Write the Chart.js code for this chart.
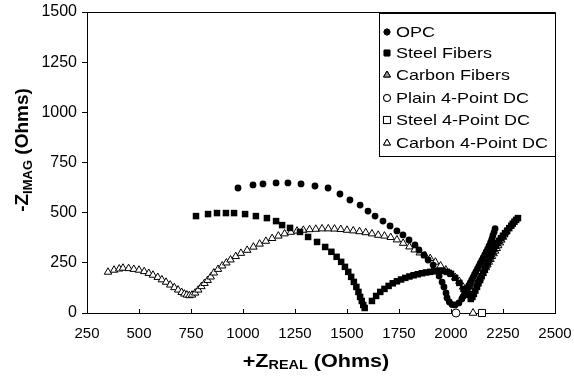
<!DOCTYPE html>
<html>
<head>
<meta charset="utf-8">
<script src="https://cdn.jsdelivr.net/npm/chart.js@4/dist/chart.umd.min.js"></script>
<style>
  html, body { margin: 0; padding: 0; background: #fff; }
  canvas { display: block; }
</style>
</head>
<body>
<canvas id="nyquist" width="574" height="379"></canvas>
<script>
// Data (ohms)
const opcX = [976,1048,1096,1159,1216,1279,1346,1409,1466,1514,1563,1601,1635,1673,1707,1740,1769,1798,1827,1846,1870,1890,1914,1933,1943,1957,1966,1976,1981,1992,2005,2020,2038,2052,2058,2065,2072,2078,2085,2092,2099,2106,2113,2120,2127,2134,2141,2148,2155,2162,2169,2176,2183,2190,2196,2201,2207,2212];
const opcY = [623,638,643,648,648,643,633,623,593,563,538,508,483,458,434,409,389,364,339,314,289,264,239,209,184,154,130,100,75,55,42,40,50,70,82,95,108,122,136,150,164,178,192,206,220,234,248,262,276,290,304,318,334,350,367,385,402,420];

const steelX = [774,832,875,918,957,1010,1062,1115,1159,1188,1226,1274,1313,1356,1395,1425,1450,1472,1490,1506,1520,1533,1545,1555,1563,1571,1578,1585,
  1620,1640,1660,1680,1700,1720,1740,1760,1780,1800,1820,1840,1860,1880,1900,1920,1940,1960,1980,2000,2020,2040,2060,2080,2095,
  2103,2110,2117,2125,2132,2140,2147,2155,2162,2170,2177,2185,2192,2200,2207,2215,2222,2230,2240,2250,2260,2270,2280,2290,2297,2305,2313,2322];
const steelY = [483,493,498,498,498,493,483,473,458,438,424,404,379,354,329,305,280,255,230,205,180,155,130,105,80,60,40,25,
  60,85,105,120,135,148,158,167,175,182,188,193,198,202,205,208,210,210,205,195,175,150,120,90,70,
  80,95,112,130,148,165,183,200,218,235,252,270,288,305,320,335,348,360,373,385,398,410,423,435,445,455,464,473];

const carbonX = [351,380,405,423,450,475,500,525,547,567,590,610,630,650,670,688,705,718,730,742,755,770,785,800,815,830,845,860,880,900,920,940,965,990,1020,1050,1080,1110,1140,1170,1200,1230,1260,1290,1320,1350,1380,1410,1440,1470,1500,1530,1560,1590,1620,1650,1680,1710,1740,1770,1800,1825,1850,1875,1900,1925,1950,1975,2000,2020,2040,2058,2072,2085,
  2092,2100,2107,2115,2122,2130,2137,2145,2152,2160,2167,2175,2182,2190,2197,2205,2212,2220,2227,2235,2242,2250,2256,2262];
const carbonY = [204,214,220,224,222,218,214,207,198,189,178,166,154,140,127,115,103,95,90,87,90,100,115,132,148,163,180,200,218,235,250,265,282,298,313,329,344,358,372,384,395,403,409,413,416,418,420,420,419,417,413,410,406,401,395,388,384,377,365,348,330,315,300,286,272,254,235,215,195,178,158,130,108,88,
  95,105,118,130,144,158,172,185,198,212,226,240,254,268,282,296,309,322,336,350,364,378,390,403];

// 4-point DC resistances (on the real axis)
const plainDcX = [2024], plainDcY = [0];
const steelDcX = [2149], steelDcY = [0];
const carbonDcX = [2106], carbonDcY = [0];

const xTicks = [250,500,750,1000,1250,1500,1750,2000,2250,2500];
const yTicks = [0,250,500,750,1000,1250,1500];

function pts(xs, ys) {
  return xs.map((x, i) => ({ x: x, y: ys[i] }));
}

const FONT = '"Liberation Sans", Arial, Helvetica, sans-serif';
const SX = 1.2; // the scanned figure is a bit wider than tall

function drawParts(ctx, parts, x, y, sx, align) {
  let w = 0;
  parts.forEach(p => { ctx.font = p.font; w += ctx.measureText(p.t).width; });
  ctx.save();
  ctx.translate(x, y);
  ctx.scale(sx, 1);
  let cx = align === 'center' ? -w / 2 : 0;
  ctx.textBaseline = 'middle';
  ctx.textAlign = 'left';
  parts.forEach(p => {
    ctx.font = p.font;
    ctx.fillText(p.t, cx, p.dy || 0);
    cx += ctx.measureText(p.t).width;
  });
  ctx.restore();
}

const decorations = {
  id: 'decorations',
  afterDraw(chart) {
    const ctx = chart.ctx;
    const a = chart.chartArea;
    const xs = chart.scales.x;
    ctx.save();
    ctx.strokeStyle = '#000';
    ctx.fillStyle = '#000';
    ctx.lineWidth = 1;

    // frame
    ctx.beginPath();
    ctx.moveTo(a.left, a.top + 0.5);
    ctx.lineTo(a.right + 0.5, a.top + 0.5);
    ctx.lineTo(a.right + 0.5, a.bottom);
    ctx.stroke();

    // x tick marks, pointing inward
    ctx.beginPath();
    xTicks.forEach(v => {
      const px = Math.round(xs.getPixelForValue(v)) + 0.5;
      ctx.moveTo(px, a.bottom);
      ctx.lineTo(px, a.bottom - 4);
    });
    ctx.stroke();

    // axis titles
    drawParts(ctx, [
      { t: '+Z', font: 'bold 18px ' + FONT },
      { t: 'REAL', font: 'bold 12px ' + FONT, dy: 4 },
      { t: ' (Ohms)', font: 'bold 18px ' + FONT }
    ], 316, 362, SX, 'center');

    ctx.save();
    ctx.translate(23, 150);
    ctx.rotate(-Math.PI / 2);
    drawParts(ctx, [
      { t: '-Z', font: 'bold 19px ' + FONT },
      { t: 'IMAG', font: 'bold 13px ' + FONT, dy: 5 },
      { t: ' (Ohms)', font: 'bold 19px ' + FONT }
    ], 0, 0, 1, 'center');
    ctx.restore();

    // legend
    const lx = 379, ly = 13, lw = a.right - 379, lh = 143;
    ctx.fillStyle = '#fff';
    ctx.fillRect(lx, ly, lw, lh);
    ctx.strokeStyle = '#000';
    ctx.strokeRect(lx + 0.5, ly + 0.5, lw, lh);
    const rows = [32, 53, 75, 98, 120, 143];
    chart.data.datasets.forEach((ds, i) => {
      const cy = rows[i];
      Chart.helpers.drawPoint(ctx, {
        pointStyle: ds.pointStyle,
        radius: ds.legendRadius,
        borderWidth: 1,
        rotation: 0
      }, 387, cy);
      ctx.save();
      ctx.fillStyle = ds.legendFill;
      ctx.strokeStyle = '#000';
      ctx.lineWidth = 1;
      ctx.fill();
      ctx.stroke();
      ctx.restore();
      ctx.fillStyle = '#000';
      drawParts(ctx, [{ t: ds.label, font: '15px ' + FONT }], 396, cy + 1, SX, 'left');
    });
    ctx.restore();
  }
};

new Chart(document.getElementById('nyquist'), {
  type: 'scatter',
  data: {
    datasets: [{
      label: 'OPC',
      data: pts(opcX, opcY),
      pointStyle: 'circle',
      pointRadius: 3.4,
      backgroundColor: '#000',
      borderColor: '#000',
      borderWidth: 0,
      legendRadius: 3,
      legendFill: '#000'
    }, {
      label: 'Steel Fibers',
      data: pts(steelX, steelY),
      pointStyle: 'rect',
      pointRadius: 4.6,
      backgroundColor: '#000',
      borderColor: '#000',
      borderWidth: 0,
      legendRadius: 4,
      legendFill: '#000'
    }, {
      label: 'Carbon Fibers',
      data: pts(carbonX, carbonY),
      pointStyle: 'triangle',
      pointRadius: 4.3,
      backgroundColor: '#fff',
      borderColor: '#000',
      borderWidth: 1,
      legendRadius: 4,
      legendFill: '#999'
    }, {
      label: 'Plain 4-Point DC',
      data: pts(plainDcX, plainDcY),
      pointStyle: 'circle',
      pointRadius: 4,
      backgroundColor: '#fff',
      borderColor: '#000',
      borderWidth: 1,
      legendRadius: 3.5,
      legendFill: '#fff'
    }, {
      label: 'Steel 4-Point DC',
      data: pts(steelDcX, steelDcY),
      pointStyle: 'rect',
      pointRadius: 5,
      backgroundColor: '#fff',
      borderColor: '#000',
      borderWidth: 1,
      legendRadius: 5,
      legendFill: '#fff'
    }, {
      label: 'Carbon 4-Point DC',
      data: pts(carbonDcX, carbonDcY),
      pointStyle: 'triangle',
      pointRadius: 4.5,
      backgroundColor: '#fff',
      borderColor: '#000',
      borderWidth: 1,
      legendRadius: 4,
      legendFill: '#fff'
    }]
  },
  options: {
    responsive: false,
    animation: false,
    devicePixelRatio: 1,
    clip: false,
    layout: { padding: { top: 12, right: 19, left: 0, bottom: 0 } },
    plugins: {
      legend: { display: false },
      tooltip: { enabled: false }
    },
    scales: {
      x: {
        type: 'linear',
        min: 250,
        max: 2500,
        afterBuildTicks: s => { s.ticks = xTicks.map(v => ({ value: v })); },
        afterFit: s => { s.height = 66; s.paddingLeft = 0; s.paddingRight = 0; },
        grid: { display: true, drawOnChartArea: false, drawTicks: false },
        border: { display: true, color: '#000', width: 1 },
        ticks: { color: '#000', padding: 12, maxRotation: 0, font: { family: FONT, size: 15 },
          callback: v => String(v) }
      },
      y: {
        type: 'linear',
        min: 0,
        max: 1500,
        afterBuildTicks: s => { s.ticks = yTicks.map(v => ({ value: v })); },
        afterFit: s => { s.width = 87; s.paddingTop = 0; s.paddingBottom = 0; },
        grid: { display: true, drawOnChartArea: false, drawTicks: true, tickLength: 5, color: '#000' },
        border: { display: true, color: '#000', width: 1 },
        ticks: { color: '#000', padding: 5, font: { family: FONT, size: 16 },
          callback: v => String(v) }
      }
    }
  },
  plugins: [decorations]
});
</script>
</body>
</html>
